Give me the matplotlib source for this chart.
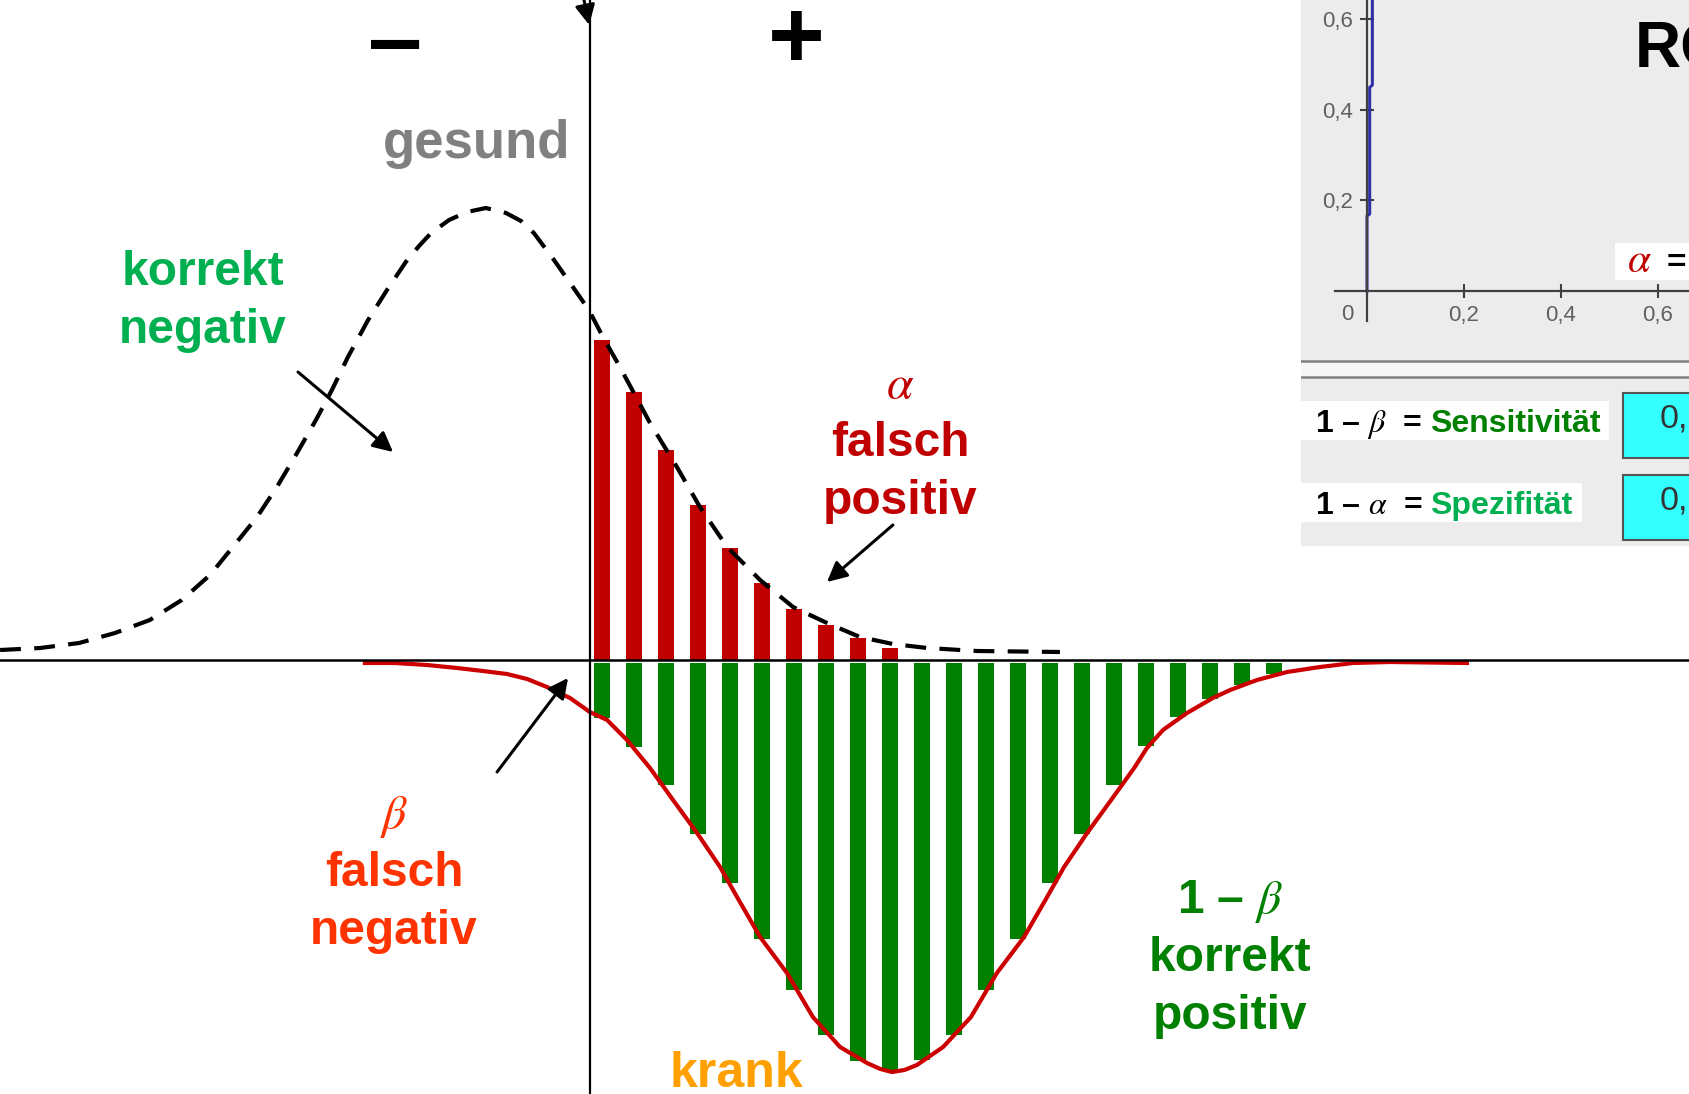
#!/usr/bin/env python


"""
Schwellenwert zwischen den Verteilungen "gesund" und "krank":
falsch/korrekt positiv und negativ, dazu ein Ausschnitt der ROC-Ansicht.
"""


# Import external libraries
import matplotlib
matplotlib.use("Agg")
import matplotlib.pyplot as plt
from matplotlib.patches import Rectangle

plt.rcParams["font.family"] = ["Liberation Sans", "DejaVu Sans"]
plt.rcParams["mathtext.fontset"] = "stix"

# Messwert-Achse: eine Einheit = Abstand zweier Balken, Schwelle bei CUTOFF
CUTOFF = -0.375
GAP = 0.03

# Dichte "gesund" (gestrichelt, nach oben)
healthy_x = [-18.81, -17.56, -16.34, -15.22, -14.13, -13.13, -12.25, -11.41, -10.78, -10.16,
             -9.53, -8.94, -8.44, -7.94, -7.31, -6.72, -6.09, -5.69, -5.34, -4.78,
             -4.22, -3.63, -3.00, -2.53, -2.13, -1.50, -0.91, -0.41, 0.03, 0.56,
             1.50, 2.34, 3.06, 3.91, 4.94, 5.97, 7.03, 8.06, 9.09, 10.16,
             11.72, 14.31]
healthy_y = [0.10, 0.12, 0.17, 0.27, 0.40, 0.60, 0.85, 1.18, 1.43, 1.73,
             2.07, 2.40, 2.70, 3.03, 3.40, 3.70, 4.00, 4.15, 4.27, 4.40,
             4.48, 4.52, 4.47, 4.39, 4.27, 4.00, 3.73, 3.50, 3.23, 2.93,
             2.37, 1.93, 1.53, 1.13, 0.80, 0.53, 0.37, 0.23, 0.16, 0.12,
             0.09, 0.08]

# Dichte "krank" (rot, nach unten)
sick_x = [-7.41, -6.47, -5.47, -4.53, -3.72, -2.97, -2.34, -1.72, -1.00, -0.38,
          0.16, 0.78, 1.50, 2.22, 2.97, 3.69, 4.22, 4.94, 5.78, 6.59,
          7.44, 8.28, 8.70, 9.06, 9.45, 9.84, 10.66, 11.53, 12.34, 13.19,
          13.91, 14.44, 15.16, 15.91, 16.63, 17.03, 17.53, 18.28, 19.09, 19.63,
          20.47, 21.41, 22.44, 23.47, 24.63, 27.03]
sick_y = [-0.03, -0.03, -0.05, -0.08, -0.11, -0.14, -0.19, -0.27, -0.38, -0.52,
          -0.60, -0.80, -1.08, -1.40, -1.73, -2.07, -2.37, -2.77, -3.13, -3.57,
          -3.87, -4.03, -4.09, -4.12, -4.10, -4.05, -3.87, -3.57, -3.13, -2.77,
          -2.37, -2.07, -1.73, -1.40, -1.08, -0.88, -0.70, -0.53, -0.38, -0.30,
          -0.20, -0.12, -0.07, -0.03, -0.02, -0.03]

# Balken rechts der Schwelle
false_pos = [3.20, 2.68, 2.10, 1.55, 1.12, 0.77, 0.51, 0.35, 0.22, 0.12]
true_pos = [0.58, 0.87, 1.25, 1.74, 2.23, 2.79, 3.30, 3.75, 4.01, 4.10, 4.00,
            3.75, 3.30, 2.79, 2.23, 1.74, 1.25, 0.86, 0.57, 0.39, 0.25, 0.14]

# ROC-Ausschnitt
roc_fpr = [0.0, 0.0, 0.0055, 0.0055, 0.011, 0.011]
roc_tpr = [0.0, 0.166, 0.17, 0.45, 0.455, 0.70]
roc_ticks = [0.2, 0.4, 0.6]
roc_tick_labels = ["0,2", "0,4", "0,6"]

W, H = 1690, 1094


def label_block(ax, x, y, lines, color, size=34.5, step=0.58):
    for i, line in enumerate(lines):
        ax.text(x, y - i * step, line, color=color, fontsize=size, fontweight="bold",
                ha="center", va="baseline")


def arrow(ax, tail, tip):
    ax.annotate("", xy=tip, xytext=tail, annotation_clip=False,
                arrowprops=dict(arrowstyle="-|>", color="black", lw=2.2,
                                mutation_scale=30, shrinkA=0, shrinkB=0))


def plot_main(fig):
    ax = fig.add_axes([0, 0, 1, 1])
    ax.set_xlim(-18.8125, 34.0)
    ax.set_ylim(-4.34, 6.60)
    ax.set_axis_off()

    ax.bar(range(len(false_pos)), false_pos, width=0.5, color="#c00000", zorder=2)
    ax.bar(range(len(true_pos)), [-(d - GAP) for d in true_pos], bottom=-GAP,
           width=0.5, color="#008000", zorder=2)

    ax.axhline(0, color="black", lw=1.8, zorder=4)
    ax.axvline(CUTOFF, color="black", lw=1.6, zorder=4)

    ax.plot(healthy_x, healthy_y, color="black", lw=3.0, linestyle=(0, (5, 3.2)), zorder=3)
    ax.plot(sick_x, sick_y, color="#cc0000", lw=3, zorder=3)

    ax.text(-6.47, 5.90, "–", fontsize=70, fontweight="bold", ha="center", va="baseline")
    ax.text(6.06, 5.92, "+", fontsize=70, fontweight="bold", ha="center", va="baseline")

    ax.text(-3.91, 5.02, "gesund", color="#808080", fontsize=38, fontweight="bold",
            ha="center", va="baseline")
    ax.text(4.19, -4.27, "krank", color="#ffa000", fontsize=36, fontweight="bold",
            ha="center", va="baseline")

    label_block(ax, -12.47, 3.75, ["korrekt", "negativ"], "#00b050")
    label_block(ax, 9.31, 2.62, [r"$\alpha$", "falsch", "positiv"], "#c00000")
    label_block(ax, -6.5, -1.68, [r"$\beta$", "falsch", "negativ"], "#ff3300")
    label_block(ax, 19.63, -2.53, [r"1 – $\beta$", "korrekt", "positiv"], "#008000")

    arrow(ax, (-9.5, 2.88), (-6.53, 2.08))
    arrow(ax, (9.09, 1.35), (7.03, 0.78))
    arrow(ax, (-3.28, -1.12), (-1.06, -0.18))
    arrow(ax, (-0.66, 6.75), (-0.40, 6.35))


def plot_panel(fig):
    # grauer Fensterausschnitt, Koordinaten in Bildpunkten
    x0, y0 = 1301, 546
    panel = fig.add_axes([x0 / W, 1 - y0 / H, (W - x0) / W, y0 / H])
    panel.set_xlim(x0, W)
    panel.set_ylim(y0, 0)
    panel.set_facecolor("#ececec")
    panel.set_xticks([])
    panel.set_yticks([])
    for s in panel.spines.values():
        s.set_visible(False)

    panel.add_patch(Rectangle((x0, 361), W - x0, 16, facecolor="#f6f6f6", edgecolor="none"))
    panel.axhline(361, color="#808080", lw=1.8)
    panel.axhline(377, color="#808080", lw=1.8)

    panel.text(1635, 68, "ROC", fontsize=46, fontweight="bold", clip_on=True)

    panel.add_patch(Rectangle((1615, 243), 90, 37, facecolor="white", edgecolor="none"))
    panel.text(1627, 272, r"$\alpha$", color="#c00000", fontsize=30, clip_on=True)
    panel.text(1667, 272, "=", fontsize=24, fontweight="bold", clip_on=True)

    rows = [(401, 432, r"1 – $\beta$  =", "Sensitivität", "#008000", 308),
            (483, 514, r"1 – $\alpha$  =", "Spezifität", "#00b050", 281)]
    for top, base, lhs, name, color, width in rows:
        panel.add_patch(Rectangle((x0, top), width, 39, facecolor="white", edgecolor="none"))
        panel.text(1315, base, lhs, fontsize=23, fontweight="bold")
        panel.text(1430, base, name, color=color, fontsize=23, fontweight="bold")
        panel.add_patch(Rectangle((1623, top - 8), 90, 65, facecolor="#33ffff",
                                  edgecolor="#555555", lw=1.5))
        panel.text(1660, top + 26, "0,", fontsize=24.5, color="#333333", clip_on=True)

    # ROC-Achsen
    ax_l, ax_r, ax_t, ax_b = 1335, W, 0, 321
    roc = fig.add_axes([ax_l / W, 1 - ax_b / H, (ax_r - ax_l) / W, (ax_b - ax_t) / H])
    roc.set_facecolor("none")
    roc.set_xlim(-0.066, 0.666)
    roc.set_ylim(-0.0663, 0.643)
    roc.spines["left"].set_position(("data", 0))
    roc.spines["bottom"].set_position(("data", 0))
    roc.spines["top"].set_visible(False)
    roc.spines["right"].set_visible(False)
    for s in ("left", "bottom"):
        roc.spines[s].set_color("#404040")
        roc.spines[s].set_linewidth(1.6)
    roc.set_xticks(roc_ticks, roc_tick_labels)
    roc.set_yticks(roc_ticks, roc_tick_labels)
    roc.tick_params(direction="inout", length=10, width=1.5, color="#404040",
                    labelcolor="#606060", labelsize=16, pad=5)
    roc.text(-0.041, -0.051, "0", color="#606060", fontsize=16, ha="center", va="center")
    roc.plot(roc_fpr, roc_tpr, color="#3030a8", lw=2.2)


if __name__ == "__main__":
    fig = plt.figure(figsize=(W / 100, H / 100), dpi=100)
    plot_main(fig)
    plot_panel(fig)
    fig.savefig("out.png", dpi=100)
